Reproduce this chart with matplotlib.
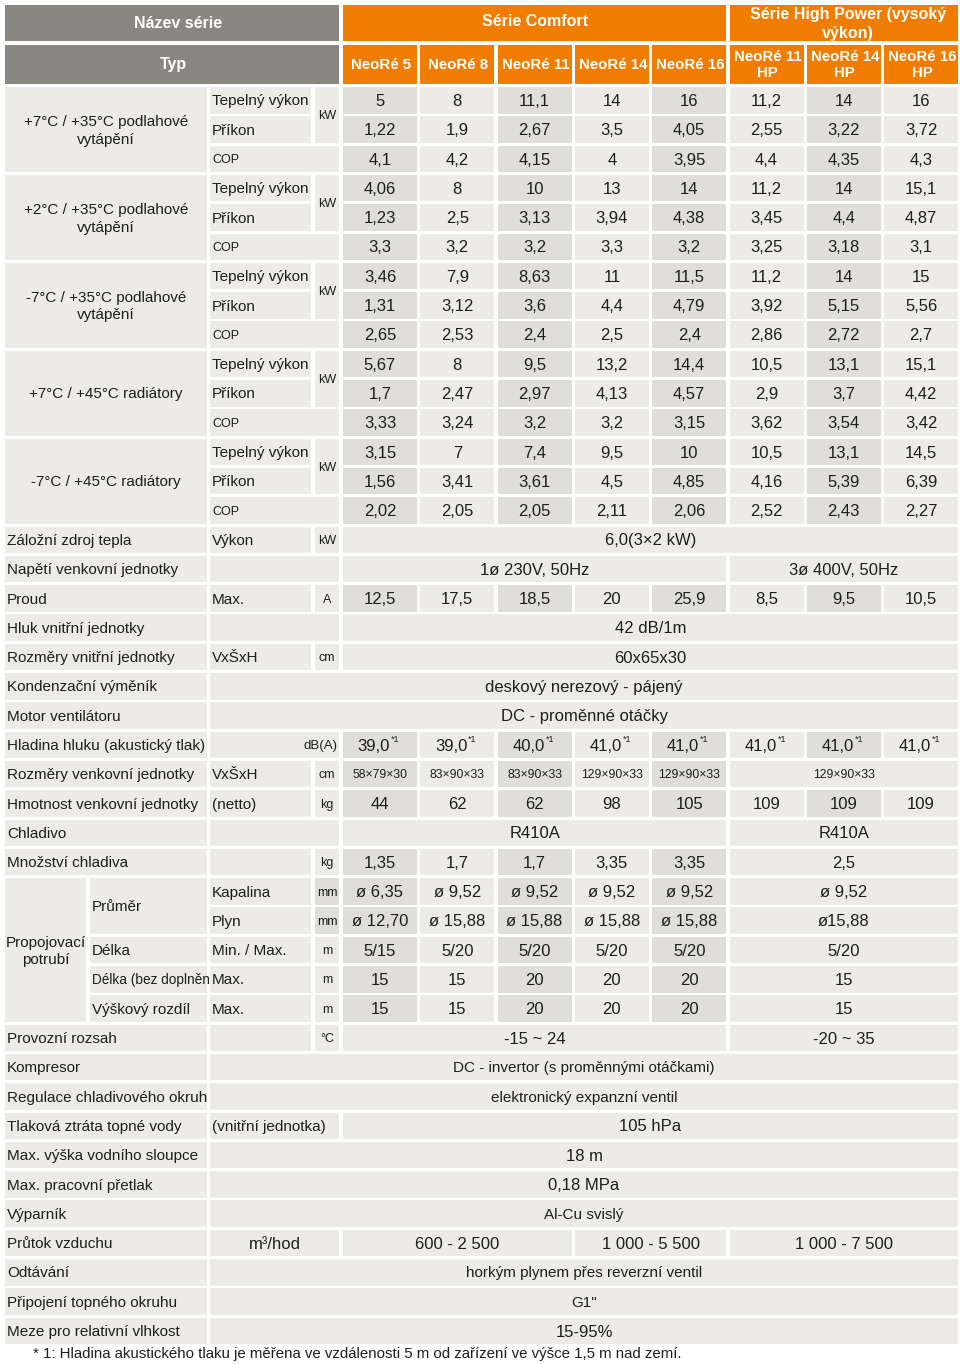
import matplotlib.pyplot as plt
from matplotlib.patches import Rectangle
from matplotlib.transforms import Bbox, TransformedBbox

plt.rcParams['font.family'] = ['Liberation Sans', 'DejaVu Sans']

# ---- data -------------------------------------------------------------
series_names = ["Série Comfort", "Série High Power (vysoký\nvýkon)"]
models = ["NeoRé 5", "NeoRé 8", "NeoRé 11", "NeoRé 14", "NeoRé 16",
          "NeoRé 11\nHP", "NeoRé 14\nHP", "NeoRé 16\nHP"]
conditions = ["+7°C / +35°C podlahové\nvytápění",
              "+2°C / +35°C podlahové\nvytápění",
              "-7°C / +35°C podlahové\nvytápění",
              "+7°C / +45°C radiátory",
              "-7°C / +45°C radiátory"]
heat_output = [[5, 8, 11.1, 14, 16, 11.2, 14, 16],
               [4.06, 8, 10, 13, 14, 11.2, 14, 15.1],
               [3.46, 7.9, 8.63, 11, 11.5, 11.2, 14, 15],
               [5.67, 8, 9.5, 13.2, 14.4, 10.5, 13.1, 15.1],
               [3.15, 7, 7.4, 9.5, 10, 10.5, 13.1, 14.5]]
power_input = [[1.22, 1.9, 2.67, 3.5, 4.05, 2.55, 3.22, 3.72],
               [1.23, 2.5, 3.13, 3.94, 4.38, 3.45, 4.4, 4.87],
               [1.31, 3.12, 3.6, 4.4, 4.79, 3.92, 5.15, 5.56],
               [1.7, 2.47, 2.97, 4.13, 4.57, 2.9, 3.7, 4.42],
               [1.56, 3.41, 3.61, 4.5, 4.85, 4.16, 5.39, 6.39]]
cop = [[4.1, 4.2, 4.15, 4, 3.95, 4.4, 4.35, 4.3],
       [3.3, 3.2, 3.2, 3.3, 3.2, 3.25, 3.18, 3.1],
       [2.65, 2.53, 2.4, 2.5, 2.4, 2.86, 2.72, 2.7],
       [3.33, 3.24, 3.2, 3.2, 3.15, 3.62, 3.54, 3.42],
       [2.02, 2.05, 2.05, 2.11, 2.06, 2.52, 2.43, 2.27]]

backup_heater = "6,0(3×2 kW)"
supply_voltage = ["1ø 230V, 50Hz", "3ø 400V, 50Hz"]
max_current = [12.5, 17.5, 18.5, 20, 25.9, 8.5, 9.5, 10.5]
indoor_noise = "42 dB/1m"
indoor_dims = "60x65x30"
condenser = "deskový nerezový - pájený"
fan_motor = "DC - proměnné otáčky"
outdoor_noise = [39.0, 39.0, 40.0, 41.0, 41.0, 41.0, 41.0, 41.0]
outdoor_dims = ["58×79×30", "83×90×33", "83×90×33", "129×90×33", "129×90×33"]
outdoor_dims_hp = "129×90×33"
outdoor_weight = [44, 62, 62, 98, 105, 109, 109, 109]
refrigerant = ["R410A", "R410A"]
refrigerant_charge = [1.35, 1.7, 1.7, 3.35, 3.35]
refrigerant_charge_hp = 2.5
pipe_liquid = ["ø 6,35", "ø 9,52", "ø 9,52", "ø 9,52", "ø 9,52"]
pipe_liquid_hp = "ø 9,52"
pipe_gas = ["ø 12,70", "ø 15,88", "ø 15,88", "ø 15,88", "ø 15,88"]
pipe_gas_hp = "ø15,88"
pipe_length = ["5/15", "5/20", "5/20", "5/20", "5/20"]
pipe_length_hp = "5/20"
pipe_no_refill = [15, 15, 20, 20, 20]
pipe_no_refill_hp = 15
height_diff = [15, 15, 20, 20, 20]
height_diff_hp = 15
op_range = ["-15 ~ 24", "-20 ~ 35"]
compressor = "DC - invertor (s proměnnými otáčkami)"
regulation = "elektronický expanzní ventil"
pressure_drop = "105 hPa"
water_column = "18 m"
max_pressure = "0,18 MPa"
evaporator = "Al-Cu svislý"
airflow = ["600 - 2 500", "1 000 - 5 500", "1 000 - 7 500"]
defrost = "horkým plynem přes reverzní ventil"
connection = 'G1"'
humidity = "15-95%"
footnote = ("* 1: Hladina akustického tlaku je měřena ve vzdálenosti 5 m "
            "od zařízení ve výšce 1,5 m nad zemí.")

# ---- layout -----------------------------------------------------------
GREY = "#8a8681"
ORANGE = "#f07d00"
LIGHT = "#ecebe7"
DARK = "#dfdedb"
INK = "#1e1e1e"

X_A = (5, 207)
X_A1 = (5, 86)
X_A2 = (90, 207)
X_B = (210, 311)
X_C = (315, 339)
X_BC = (210, 339)
X_HEAD = (5, 339)
DATA_X0, DATA_STEP, DATA_W = 343, 77.3, 74
ROW0, STEP, CELL_H = 87, 29.3, 26.5
DATA_SIZE = 12


def span(i, j):
    return (DATA_X0 + i * DATA_STEP, DATA_X0 + j * DATA_STEP + DATA_W)


X_ALL = (X_B[0], span(7, 7)[1])

fig = plt.figure(figsize=(9.6, 13.64), dpi=100)
ax = fig.add_axes([0, 0, 1, 1])
ax.set_xlim(0, 960)
ax.set_ylim(1364, 0)
ax.axis('off')


def fmt(v):
    return f"{v:g}".replace(".", ",")


def rect(xs, y0, y1, color):
    ax.add_patch(Rectangle((xs[0], y0), xs[1] - xs[0], y1 - y0,
                           facecolor=color, edgecolor='none'))


def clip_to(t, xs, y0, y1):
    bb = Bbox.from_extents(xs[0], y0, xs[1], y1)
    t.set_clip_box(TransformedBbox(bb, ax.transData))
    t.set_clip_on(True)


def cell(xs, r0, r1=None, color=LIGHT, text="", ha='center', size=DATA_SIZE,
         clip=False, ls=1.3):
    r1 = r0 if r1 is None else r1
    y0 = ROW0 + r0 * STEP
    y1 = ROW0 + r1 * STEP + CELL_H
    rect(xs, y0, y1, color)
    if text != "":
        x = (xs[0] + xs[1]) / 2 if ha == 'center' else (
            xs[0] + 2 if ha == 'left' else xs[1] - 1)
        t = ax.text(x, (y0 + y1) / 2 + 1.2, text, ha=ha, va='center',
                    fontsize=size, color=INK, linespacing=ls)
        if clip:
            clip_to(t, xs, y0, y1)


def values_row(r, vals, size=DATA_SIZE):
    for i, v in enumerate(vals):
        cell(span(i, i), r, color=DARK if i % 2 == 0 else LIGHT,
             text=v, size=size)


# header
rect(X_HEAD, 5, 41, GREY)
ax.text(178, 23, "Název série", ha='center', va='center', fontsize=11.5,
        color='white', weight='bold')
rect(X_HEAD, 45, 84, GREY)
ax.text(173, 65, "Typ", ha='center', va='center', fontsize=11.5,
        color='white', weight='bold')
for k, (i, j) in enumerate([(0, 4), (5, 7)]):
    xs = span(i, j)
    rect(xs, 5, 41, ORANGE)
    t = ax.text(sum(xs) / 2 + 4 * k, 24 if k else 22, series_names[k],
                ha='center', va='center', fontsize=11.5, color='white',
                weight='bold', linespacing=1.3)
    clip_to(t, xs, 5, 41)
for i, m in enumerate(models):
    xs = span(i, i)
    rect(xs, 45, 84, ORANGE)
    t = ax.text(sum(xs) / 2 + 1, 65, m, ha='center', va='center',
                fontsize=10.8, color='white', weight='bold', linespacing=1.25)
    clip_to(t, xs, 45, 84)

# heating performance blocks
for g, cond in enumerate(conditions):
    r = g * 3
    cell(X_A, r, r + 2, text=cond, size=11, ls=1.35)
    cell(X_B, r, text="Tepelný výkon", ha='left', size=11)
    cell(X_B, r + 1, text="Příkon", ha='left', size=11)
    cell(X_C, r, r + 1, text="kW", size=9)
    cell(X_BC, r + 2, text="COP", ha='left', size=9)
    values_row(r, [fmt(v) for v in heat_output[g]])
    values_row(r + 1, [fmt(v) for v in power_input[g]])
    values_row(r + 2, [fmt(v) for v in cop[g]])

r = 15
cell(X_A, r, text="Záložní zdroj tepla", ha='left', size=11)
cell(X_B, r, text="Výkon", ha='left', size=11)
cell(X_C, r, text="kW", size=9)
cell(span(0, 7), r, text=backup_heater)

r = 16
cell(X_A, r, text="Napětí venkovní jednotky", ha='left', size=11)
cell(X_BC, r)
cell(span(0, 4), r, text=supply_voltage[0])
cell(span(5, 7), r, text=supply_voltage[1])

r = 17
cell(X_A, r, text="Proud", ha='left', size=11)
cell(X_B, r, text="Max.", ha='left', size=11)
cell(X_C, r, text="A", size=9)
values_row(r, [fmt(v) for v in max_current])

r = 18
cell(X_A, r, text="Hluk vnitřní jednotky", ha='left', size=11)
cell(X_BC, r)
cell(span(0, 7), r, text=indoor_noise)

r = 19
cell(X_A, r, text="Rozměry vnitřní jednotky", ha='left', size=11)
cell(X_B, r, text="VxŠxH", ha='left', size=11)
cell(X_C, r, text="cm", size=9)
cell(span(0, 7), r, text=indoor_dims)

r = 20
cell(X_A, r, text="Kondenzační výměník", ha='left', size=11)
cell(X_ALL, r, text=condenser)

r = 21
cell(X_A, r, text="Motor ventilátoru", ha='left', size=11)
cell(X_ALL, r, text=fan_motor)

r = 22
cell(X_A, r, text="Hladina hluku (akustický tlak)", ha='left', size=11)
cell(X_BC, r, text="dB(A)", ha='right', size=9.5)
for i, v in enumerate(outdoor_noise):
    xs = span(i, i)
    cx = (xs[0] + xs[1]) / 2
    y0 = ROW0 + r * STEP
    rect(xs, y0, y0 + CELL_H, DARK if i % 2 == 0 else LIGHT)
    ax.text(cx - 6, y0 + CELL_H / 2 + 1.2, f"{v:.1f}".replace(".", ","),
            ha='center', va='center', fontsize=DATA_SIZE, color=INK)
    ax.text(cx + 11, y0 + 8, "*1", ha='left', va='center', fontsize=6.5,
            color=INK)

r = 23
cell(X_A, r, text="Rozměry venkovní jednotky", ha='left', size=11)
cell(X_B, r, text="VxŠxH", ha='left', size=11)
cell(X_C, r, text="cm", size=9)
values_row(r, outdoor_dims, size=8.8)
cell(span(5, 7), r, text=outdoor_dims_hp, size=8.8)

r = 24
cell(X_A, r, text="Hmotnost venkovní jednotky", ha='left', size=11)
cell(X_B, r, text="(netto)", ha='left', size=11)
cell(X_C, r, text="kg", size=9)
values_row(r, [fmt(v) for v in outdoor_weight])

r = 25
cell(X_A, r, text="Chladivo", ha='left', size=11)
cell(X_BC, r)
cell(span(0, 4), r, text=refrigerant[0])
cell(span(5, 7), r, text=refrigerant[1])

r = 26
cell(X_A, r, text="Množství chladiva", ha='left', size=11)
cell(X_B, r)
cell(X_C, r, text="kg", size=9)
values_row(r, [fmt(v) for v in refrigerant_charge])
cell(span(5, 7), r, text=fmt(refrigerant_charge_hp))

# connecting pipes block
r = 27
cell(X_A1, r, r + 4, text="Propojovací\npotrubí", size=11, ls=1.25,
     clip=True)
cell(X_A2, r, r + 1, text="Průměr", ha='left', size=11)
cell(X_A2, r + 2, text="Délka", ha='left', size=11)
cell(X_A2, r + 3, text="Délka (bez doplněn", ha='left', size=9.8)
cell(X_A2, r + 4, text="Výškový rozdíl", ha='left', size=11)
pipe_rows = [("Kapalina", "mm", pipe_liquid, pipe_liquid_hp),
             ("Plyn", "mm", pipe_gas, pipe_gas_hp),
             ("Min. / Max.", "m", pipe_length, pipe_length_hp),
             ("Max.", "m", [fmt(v) for v in pipe_no_refill],
              fmt(pipe_no_refill_hp)),
             ("Max.", "m", [fmt(v) for v in height_diff], fmt(height_diff_hp))]
for k, (sub, unit, vals, hp) in enumerate(pipe_rows):
    cell(X_B, r + k, text=sub, ha='left', size=11)
    cell(X_C, r + k, color=DARK if unit == "mm" else LIGHT, text=unit,
         size=9)
    values_row(r + k, vals)
    cell(span(5, 7), r + k, text=hp)

r = 32
cell(X_A, r, text="Provozní rozsah", ha='left', size=11)
cell(X_B, r)
cell(X_C, r, text="°C", size=9)
cell(span(0, 4), r, text=op_range[0])
cell(span(5, 7), r, text=op_range[1])

r = 33
cell(X_A, r, text="Kompresor", ha='left', size=11)
cell(X_ALL, r, text=compressor, size=11)

r = 34
cell(X_A, r, text="Regulace chladivového okruhu", ha='left', size=11,
     clip=True)
cell(X_ALL, r, text=regulation, size=11)

r = 35
cell(X_A, r, text="Tlaková ztráta topné vody", ha='left', size=11)
cell(X_BC, r, text="(vnitřní jednotka)", ha='left', size=11)
cell(span(0, 7), r, text=pressure_drop)

r = 36
cell(X_A, r, text="Max. výška vodního sloupce", ha='left', size=11)
cell(X_ALL, r, text=water_column)

r = 37
cell(X_A, r, text="Max. pracovní přetlak", ha='left', size=11)
cell(X_ALL, r, text=max_pressure)

r = 38
cell(X_A, r, text="Výparník", ha='left', size=11)
cell(X_ALL, r, text=evaporator, size=11)

r = 39
cell(X_A, r, text="Průtok vzduchu", ha='left', size=11)
cell(X_BC, r, text="m³/hod")
cell(span(0, 2), r, text=airflow[0])
cell(span(3, 4), r, text=airflow[1])
cell(span(5, 7), r, text=airflow[2])

r = 40
cell(X_A, r, text="Odtávání", ha='left', size=11)
cell(X_ALL, r, text=defrost, size=11)

r = 41
cell(X_A, r, text="Připojení topného okruhu", ha='left', size=11)
cell(X_ALL, r, text=connection, size=11)

r = 42
cell(X_A, r, text="Meze pro relativní vlhkost", ha='left', size=11)
cell(X_ALL, r, text=humidity)

ax.text(33, 1354, footnote, ha='left', va='center', fontsize=10.8, color=INK)

fig.savefig("out.png", dpi=100, facecolor='white')
